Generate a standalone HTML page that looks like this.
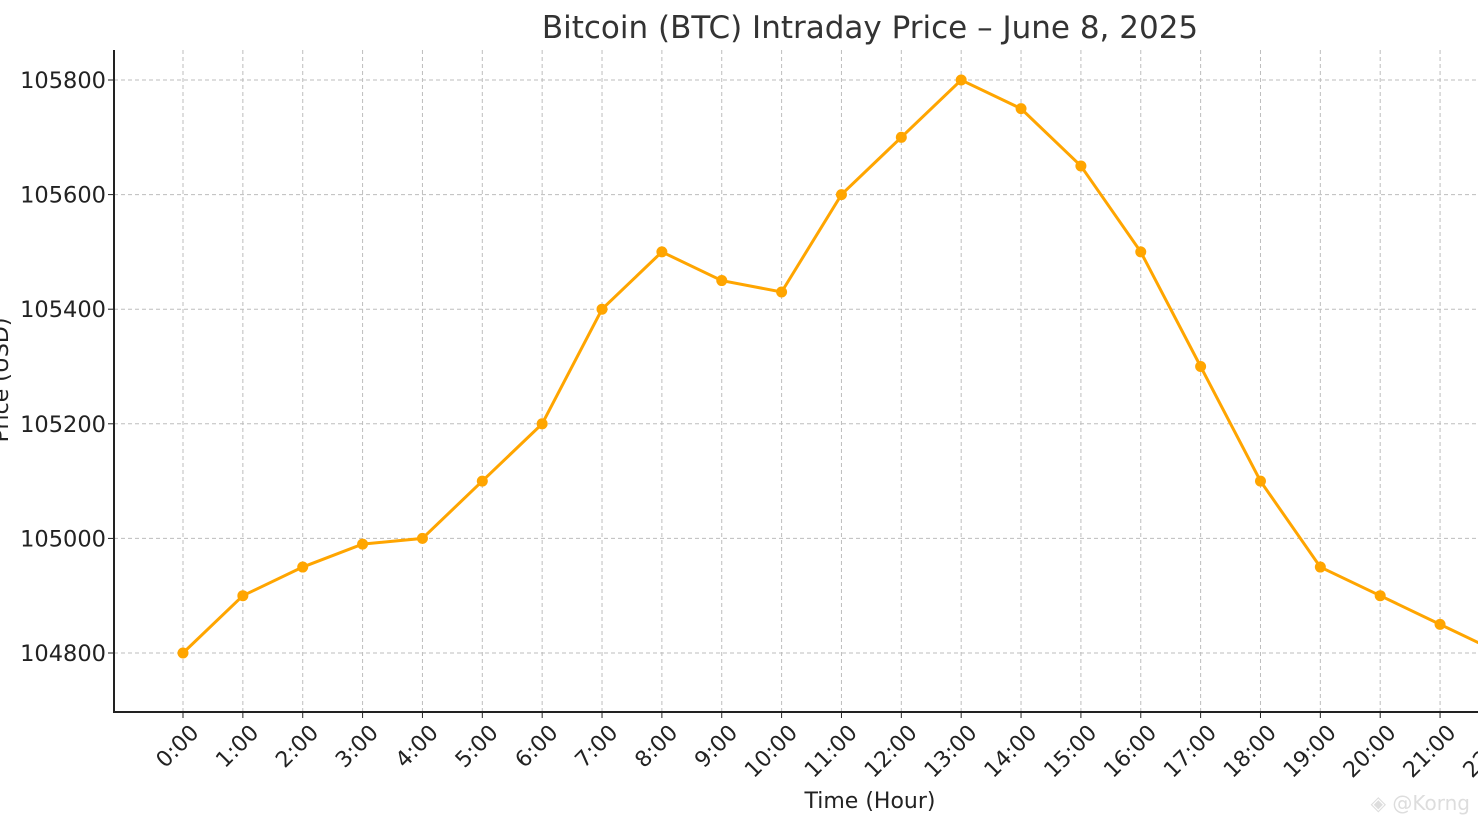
<!DOCTYPE html>
<html><head><meta charset="utf-8"><style>
body{margin:0;background:#fff;}
svg{display:block;font-family:"DejaVu Sans","Liberation Sans",sans-serif;}
</style></head><body>
<svg id="chart" width="1478" height="828">
<text x="870" y="38" font-size="31" fill="#333" text-anchor="middle">Bitcoin (BTC) Intraday Price – June 8, 2025</text>
<g id="grid"></g><g id="axes"></g><g id="series"></g>
<text x="870" y="808" font-size="22" fill="#222" text-anchor="middle">Time (Hour)</text>
<text transform="translate(8,380) rotate(-90)" font-size="22" fill="#222" text-anchor="middle">Price (USD)</text>
<text x="1470" y="810" font-size="20" fill="#ddd" text-anchor="end">◈ @Korng</text>
</svg>
<script>
const hours=["0:00","1:00","2:00","3:00","4:00","5:00","6:00","7:00","8:00","9:00","10:00","11:00","12:00","13:00","14:00","15:00","16:00","17:00","18:00","19:00","20:00","21:00","22:00","23:00"];
const prices=[104800,104900,104950,104990,105000,105100,105200,105400,105500,105450,105430,105600,105700,105800,105750,105650,105500,105300,105100,104950,104900,104850,104800,104750];
const yTicks=[104800,105000,105200,105400,105600,105800];
const NS="http://www.w3.org/2000/svg";
const L=114,B=712,T=50;
const x=i=>183+i*59.86;
const y=v=>80+(105800-v)*0.573;
function mk(tag,attrs,parent){const e=document.createElementNS(NS,tag);for(const k in attrs)e.setAttribute(k,attrs[k]);parent.appendChild(e);return e;}
const g=document.getElementById('grid'),a=document.getElementById('axes'),s=document.getElementById('series');
hours.forEach((h,i)=>{const X=x(i);if(X>1500)return;
 const l=mk('line',{x1:X,x2:X,y1:T,y2:B,stroke:'#bdbdbd','stroke-dasharray':'4,3'},g);
 
 mk('line',{x1:X,x2:X,y1:B,y2:B+6,stroke:'#222'},a);
 const t=mk('text',{transform:`translate(${X+17},${B+22}) rotate(-45)`,'font-size':22,fill:'#222','text-anchor':'end'},a);
 t.textContent=h;
 
});
yTicks.forEach(v=>{const Y=y(v);
 const l=mk('line',{x1:L,x2:1478,y1:Y,y2:Y,stroke:'#bdbdbd','stroke-dasharray':'4,3'},g);
 
 mk('line',{x1:L-6,x2:L,y1:Y,y2:Y,stroke:'#222'},a);
 const t=mk('text',{x:L-8,y:Y+8,'font-size':22.5,fill:'#222','text-anchor':'end'},a);
 t.textContent=v;
 
});
const sp=mk('path',{d:`M${L} ${T}V${B}H1478`,stroke:'#222','stroke-width':2,fill:'none'},a);

const line=mk('polyline',{points:prices.map((v,i)=>x(i)+','+y(v)).join(' '),fill:'none',stroke:'#FFA500','stroke-width':3},s);

prices.forEach((v,i)=>{const c=mk('circle',{cx:x(i),cy:y(v),r:5.5,fill:'#FFA500'},s);
 });
</script>
</body></html>
